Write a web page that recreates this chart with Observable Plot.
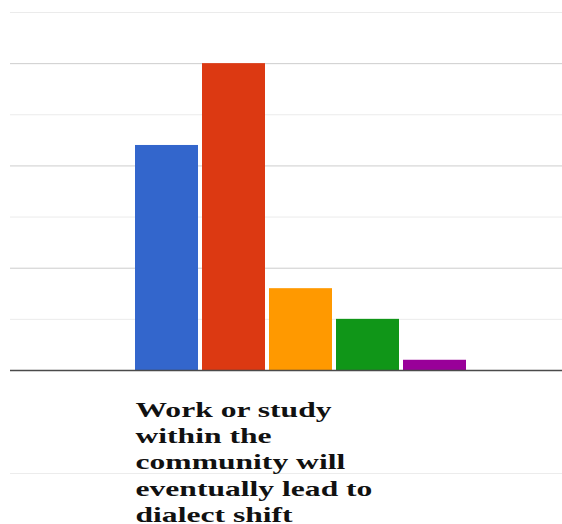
<!DOCTYPE html>
<html>
<head>
<meta charset="utf-8">
<script src="https://cdn.jsdelivr.net/npm/d3@7"></script>
<script src="https://cdn.jsdelivr.net/npm/@observablehq/plot@0.6"></script>
<style>
  html, body { margin: 0; padding: 0; background: #fff; }
  #chart { position: relative; width: 562px; height: 524px; overflow: hidden; }
  #chart .divider { position: absolute; left: 10px; right: 0; top: 473px; border-top: 1px solid #ececec; }
  #chart svg { position: absolute; left: 0; top: 0; }
</style>
</head>
<body>
<div id="chart"><div class="divider"></div></div>
<script>
// Survey statement (the single category) and the five response groups
const category = "Work or study\nwithin the\ncommunity will\neventually lead to\ndialect shift";
const series = ["Strongly agree", "Agree", "Neutral", "Disagree", "Strongly disagree"];
const counts = [22, 30, 8, 5, 1];
const colors = ["#3366cc", "#dc3912", "#ff9900", "#109618", "#990099"];
const majorTicks = [10, 20, 30];
const minorTicks = [5, 15, 25, 35];

const rows = series.map((s, i) => ({ series: s, count: counts[i] }));

const chart = Plot.plot({
  width: 562,
  height: 524,
  marginTop: 12,
  marginBottom: 154,
  marginLeft: 10,
  marginRight: 0,
  style: { background: "transparent" },
  x: { domain: series, range: [133, 467], paddingInner: 0.06, paddingOuter: 0, axis: null },
  y: { domain: [0, 35], axis: null },
  color: { domain: series, range: colors },
  marks: [
    Plot.ruleY(minorTicks, { stroke: "#ebebeb", strokeWidth: 1 }),
    Plot.ruleY(majorTicks, { stroke: "#cdcdcd", strokeWidth: 1 }),
    Plot.barY(rows, { x: "series", y: "count", fill: "series" }),
    Plot.ruleY([0], { stroke: "#4a4a4a", strokeWidth: 1.6 }),
    Plot.text([category], {
      text: d => d,
      frameAnchor: "bottom-left",
      dx: 125,
      dy: 28,
      textAnchor: "start",
      lineAnchor: "top",
      lineHeight: 1.19,
      fontSize: 22,
      fontFamily: "Liberation Serif",
      fontWeight: "bold",
      fill: "#111"
    })
  ]
});

document.getElementById("chart").appendChild(chart);

// The category label is set in a wide, stretched serif: widen it about its left edge
const label = chart.querySelector('g[aria-label="text"]');
if (label) {
  const box = label.getBBox();
  const k = box.width > 0 ? 237 / box.width : 1.5;
  const x0 = label.getBoundingClientRect().left - chart.getBoundingClientRect().left;
  const prev = label.getAttribute("transform") || "";
  label.setAttribute("transform", `translate(${x0},0) scale(${k},1) translate(${-x0},0) ${prev}`);
}
</script>
</body>
</html>
